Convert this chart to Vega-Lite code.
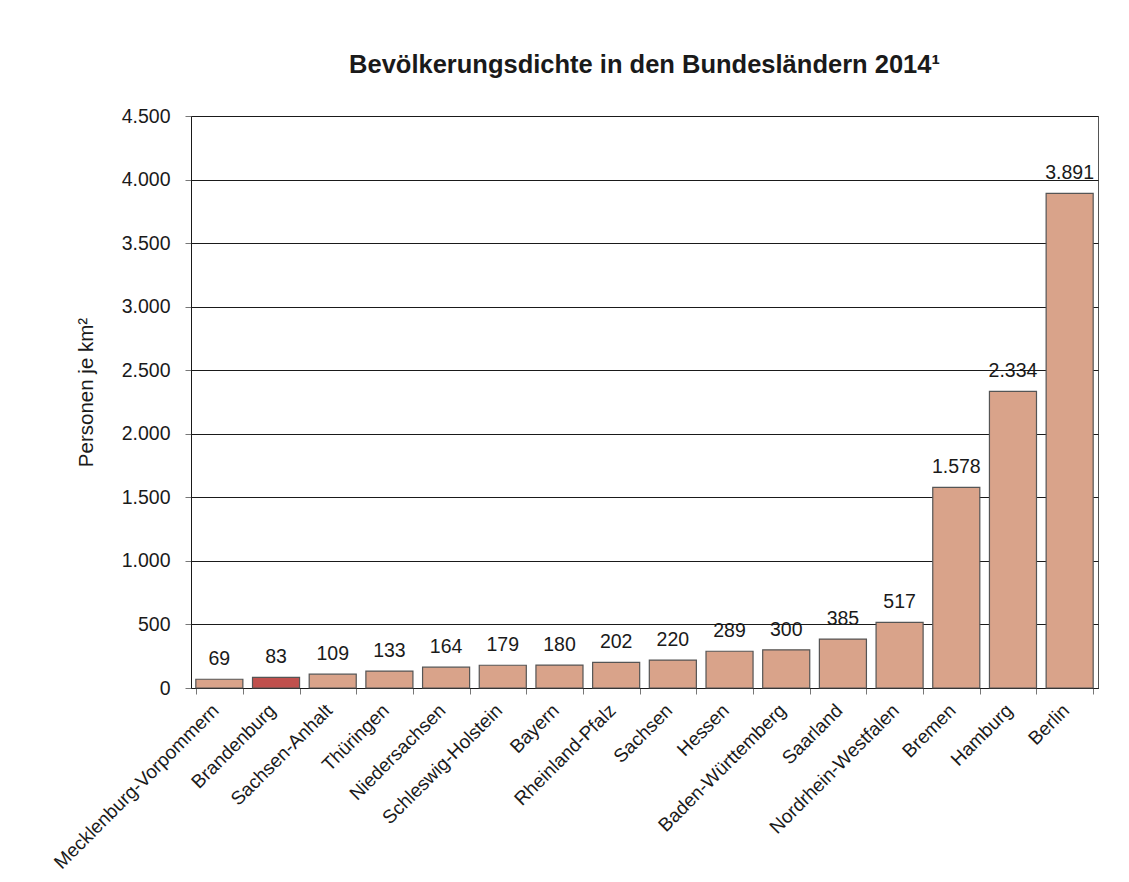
{
  "$schema": "https://vega.github.io/schema/vega-lite/v6.json",
  "width": 907,
  "height": 572,
  "autosize": "none",
  "padding": {"left": 191, "top": 116, "right": 31, "bottom": 194},
  "background": "white",
  "title": {
    "text": "Bevölkerungsdichte in den Bundesländern 2014¹",
    "font": "Liberation Sans",
    "fontSize": 25.5,
    "fontWeight": "bold",
    "color": "#1a1a1a",
    "anchor": "middle",
    "offset": 28
  },
  "config": {
    "locale": {"number": {"decimal": ",", "thousands": ".", "grouping": [3], "currency": ["", " €"]}},
    "view": {"stroke": "#555", "strokeWidth": 1},
    "font": "Liberation Sans"
  },
  "data": {
    "values": [
      {"land": "Mecklenburg-Vorpommern", "dichte": 69, "hl": "n"},
      {"land": "Brandenburg", "dichte": 83, "hl": "y"},
      {"land": "Sachsen-Anhalt", "dichte": 109, "hl": "n"},
      {"land": "Thüringen", "dichte": 133, "hl": "n"},
      {"land": "Niedersachsen", "dichte": 164, "hl": "n"},
      {"land": "Schleswig-Holstein", "dichte": 179, "hl": "n"},
      {"land": "Bayern", "dichte": 180, "hl": "n"},
      {"land": "Rheinland-Pfalz", "dichte": 202, "hl": "n"},
      {"land": "Sachsen", "dichte": 220, "hl": "n"},
      {"land": "Hessen", "dichte": 289, "hl": "n"},
      {"land": "Baden-Württemberg", "dichte": 300, "hl": "n"},
      {"land": "Saarland", "dichte": 385, "hl": "n"},
      {"land": "Nordrhein-Westfalen", "dichte": 517, "hl": "n"},
      {"land": "Bremen", "dichte": 1578, "hl": "n"},
      {"land": "Hamburg", "dichte": 2334, "hl": "n"},
      {"land": "Berlin", "dichte": 3891, "hl": "n"}
    ]
  },
  "encoding": {
    "x": {
      "field": "land",
      "type": "nominal",
      "sort": null,
      "scale": {"paddingInner": 0.17, "paddingOuter": 0.085},
      "axis": {
        "title": null,
        "labelAngle": -45,
        "labelAlign": "right",
        "labelBaseline": "middle",
        "labelFontSize": 19,
        "labelColor": "#1a1a1a",
        "labelPadding": 13,
        "labelOffset": -4,
        "labelLimit": 0,
        "tickBand": "extent",
        "tickColor": "#777",
        "tickSize": 6,
        "domainColor": "#1a1a1a",
        "grid": false
      }
    },
    "y": {
      "field": "dichte",
      "type": "quantitative",
      "scale": {"domain": [0, 4500], "nice": false},
      "axis": {
        "title": "Personen je km²",
        "titleFontSize": 20.5,
        "titleFontWeight": "normal",
        "titleColor": "#1a1a1a",
        "titlePadding": 25,
        "titleY": 276,
        "values": [0, 500, 1000, 1500, 2000, 2500, 3000, 3500, 4000, 4500],
        "format": ",d",
        "labelFontSize": 19.5,
        "labelColor": "#1a1a1a",
        "labelPadding": 15,
        "tickColor": "#777",
        "tickSize": 6,
        "domainColor": "#1a1a1a",
        "grid": true,
        "gridColor": "#1a1a1a",
        "gridWidth": 1
      }
    }
  },
  "layer": [
    {
      "mark": {"type": "bar", "stroke": "#555", "strokeWidth": 1.2},
      "encoding": {
        "color": {
          "field": "hl",
          "type": "nominal",
          "scale": {"domain": ["n", "y"], "range": ["#d9a38a", "#c0504d"]},
          "legend": null
        }
      }
    },
    {
      "mark": {"type": "text", "baseline": "bottom", "dy": -10, "fontSize": 19.5, "color": "#1a1a1a"},
      "encoding": {
        "text": {"field": "dichte", "type": "quantitative", "format": ",d"}
      }
    }
  ]
}
